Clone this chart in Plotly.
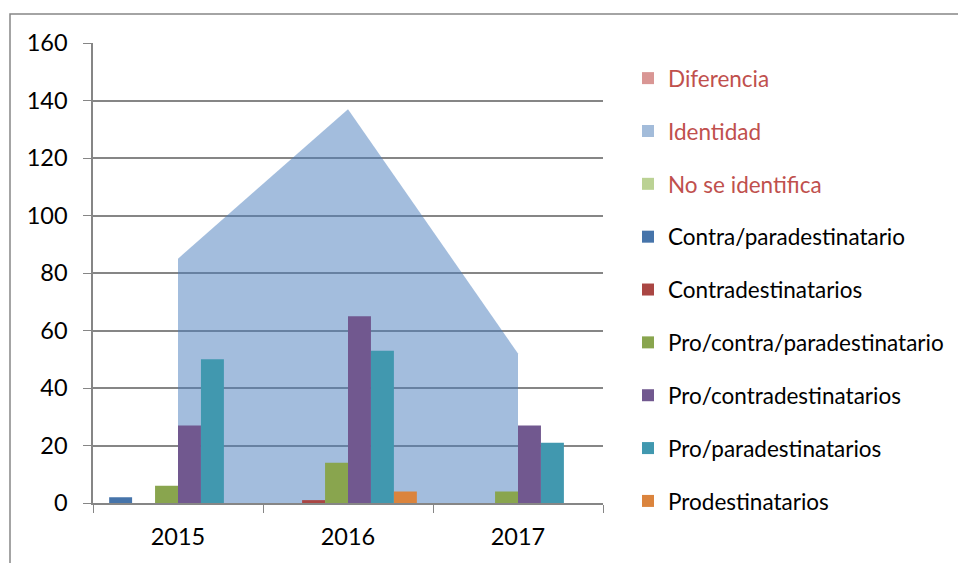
import plotly.graph_objects as go

years = ["2015", "2016", "2017"]

# area series
diferencia = [0, 0, 0]
identidad = [85, 137, 52]
no_se_identifica = [0, 0, 0]

# bar series
contra_para = [2, 0, 0]
contradestinatarios = [0, 1, 0]
pro_contra_para = [6, 14, 4]
pro_contra = [27, 65, 27]
pro_para = [50, 53, 21]
prodestinatarios = [0, 4, 0]

y_ticks = [0, 20, 40, 60, 80, 100, 120, 140, 160]

RED_TXT = "#C0504D"
FONT = "Lato, 'Open Sans', sans-serif"

fig = go.Figure()

# areas on the base axes (drawn beneath the bars)
areas = [
    ("Diferencia", diferencia, "rgba(217,150,148,0.6)", "#D99694"),
    ("Identidad", identidad, "rgba(75,125,188,0.51)", "#A3BCDA"),
    ("No se identifica", no_se_identifica, "rgba(155,187,89,0.5)", "#BBD294"),
]
for name, vals, fill, swatch in areas:
    fig.add_trace(go.Scatter(
        x=years, y=vals, mode="none", fill="tozeroy", fillcolor=fill,
        showlegend=False, legendgroup=name, hoverinfo="skip",
    ))
    # square legend swatch for the area series
    fig.add_trace(go.Scatter(
        x=[None], y=[None], mode="markers",
        name=f'<span style="color:{RED_TXT}">{name}</span>',
        marker=dict(symbol="square", size=12, color=swatch),
        legendgroup=name, showlegend=True,
    ))

bars = [
    ("Contra/paradestinatario", contra_para, "#4674AA"),
    ("Contradestinatarios", contradestinatarios, "#AA4643"),
    ("Pro/contra/paradestinatario", pro_contra_para, "#89A54E"),
    ("Pro/contradestinatarios", pro_contra, "#71588F"),
    ("Pro/paradestinatarios", pro_para, "#4198AF"),
    ("Prodestinatarios", prodestinatarios, "#DB843D"),
]
for name, vals, color in bars:
    fig.add_trace(go.Bar(
        x=years, y=vals, name=name, xaxis="x2", yaxis="y2",
        marker=dict(color=color, line=dict(width=0)),
        legendgroup=name,
    ))

# outer chart frame
W, H = 958, 563
L, R, T, B = 93, 355, 43, 60
pw, ph = W - L - R, H - T - B
def px_x(p):
    return (p - L) / pw
def px_y(p):
    return (H - B - p) / ph

fig.add_shape(type="rect", xref="paper", yref="paper",
              x0=px_x(10), x1=px_x(980), y0=px_y(600), y1=px_y(14),
              line=dict(color="#868686", width=1.5), fillcolor="rgba(0,0,0,0)",
              layer="below")

fig.update_layout(
    width=W, height=H,
    margin=dict(l=L, r=R, t=T, b=B),
    paper_bgcolor="white", plot_bgcolor="white",
    barmode="group", bargap=0.19, bargroupgap=0,
    font=dict(family=FONT, size=22.5, color="black"),
    showlegend=True,
    legend=dict(
        xref="container", yref="container",
        x=628 / W, y=1 - 57 / H, xanchor="left", yanchor="top",
        font=dict(size=22.5, color="black", family=FONT),
        tracegroupgap=20.6, itemwidth=30, traceorder="grouped",
        bgcolor="rgba(0,0,0,0)", maxheight=520,
    ),
    xaxis=dict(
        type="category", showgrid=False, range=[-0.5, 2.5],
        showline=True, linecolor="#868686", linewidth=1.5,
        ticks="outside", ticklen=8, tickcolor="#868686", tickson="boundaries",
        tickfont=dict(size=23.5, color="black"), ticklabelstandoff=12,
    ),
    yaxis=dict(
        range=[0, 160], tickvals=y_ticks, showgrid=True,
        gridcolor="#868686", gridwidth=1.5,
        showline=True, linecolor="#868686", linewidth=1.5,
        ticks="outside", ticklen=8, tickcolor="#868686",
        zeroline=False, tickfont=dict(size=23.5, color="black"),
        ticklabelstandoff=11,
    ),
    xaxis2=dict(type="category", overlaying="x", range=[-0.5, 2.5],
                visible=False, categoryorder="array", categoryarray=years),
    yaxis2=dict(overlaying="y", range=[0, 160], visible=False),
)

fig.write_html("out.html")
